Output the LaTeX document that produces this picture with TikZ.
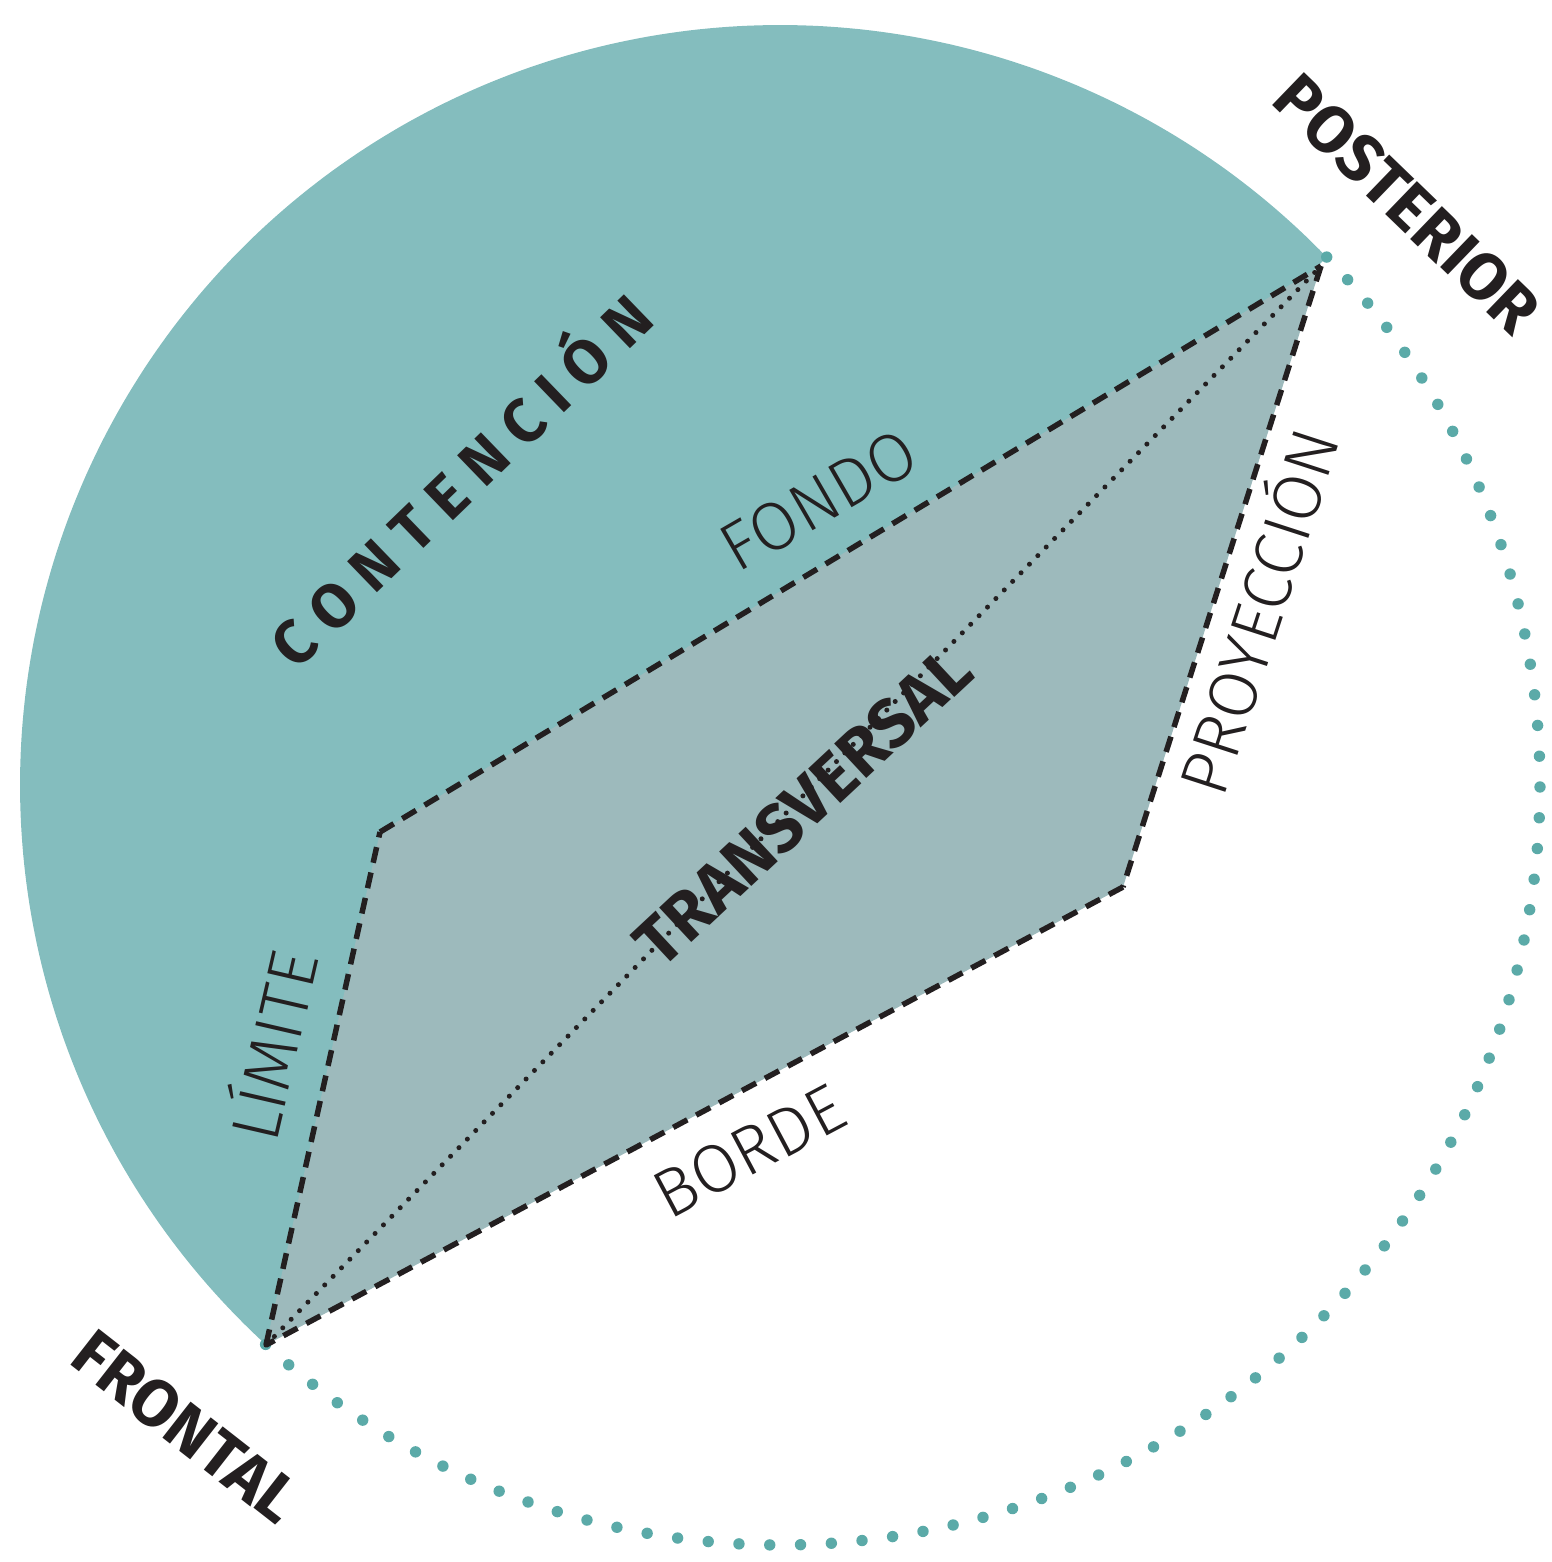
\documentclass[tikz,border=0pt]{standalone}
\usepackage{fontspec}
\setmainfont{Fira Sans}
\newfontfamily\lightf{Fira Sans Light}
\definecolor{tealfill}{HTML}{84BDBE}
\definecolor{grayfill}{HTML}{9DBABC}
\definecolor{dotc}{HTML}{5BAAA8}
\definecolor{ink}{HTML}{231F20}
\newcommand{\ls}{\kern0.245em}
\tikzset{
  edgeline/.style={draw=ink, line width=5.5pt, dash pattern=on 16pt off 10pt},
  diagline/.style={draw=ink, line width=5pt, line cap=round, dash pattern=on 0pt off 12pt},
  contlab/.style={text=ink, font=\bfseries\fontsize{62}{62}\selectfont, inner sep=0pt, text height=43pt, text depth=0pt},
  translab/.style={text=ink, font=\bfseries\fontsize{68}{68}\selectfont, inner sep=0pt, text height=47pt, text depth=0pt},
  lightlab/.style={text=ink, font=\lightf\fontsize{68}{68}\selectfont, inner sep=0pt, text height=47pt, text depth=0pt},
  cornerlab/.style={text=ink, font=\bfseries\fontsize{66}{66}\selectfont, inner sep=0pt, text height=45pt, text depth=0pt}
}
\begin{document}
\begin{tikzpicture}[x=1pt,y=-1pt]
\useasboundingbox (0,0) rectangle (1551,1562);
% teal half disc
\fill[tealfill] plot[domain=44:227.4, samples=240] ({780+760*cos(\x)},{785-760*sin(\x)}) -- cycle;
% corner points
\coordinate (F) at (266,1345);
\coordinate (L) at (380,832);
\coordinate (P) at (1321,266);
\coordinate (Q) at (1123,887);
% parallelogram fill
\fill[grayfill] (F) -- (L) -- (P) -- (Q) -- cycle;
% teal dotted arc
\foreach \i in {0,...,76}{
  \pgfmathsetmacro{\a}{227.4+\i*176.6/76}
  \fill[dotc] ({780+760*cos(\a)},{785-760*sin(\a)}) circle (5.7);
}
% dashed edges
\draw[edgeline] (F) -- (L);
\draw[edgeline] (L) -- (P);
\draw[edgeline] (P) -- (Q);
\draw[edgeline] (Q) -- (F);
% labels
\node[contlab, rotate=44] (contencion) at (462,482) {C\ls O\ls N\ls T\ls E\ls N\ls C\ls I\ls Ó\ls N};
\node[translab, rotate=43] (transversal) at (803,806) {TRANSVERSAL};
\node[lightlab, rotate=30] (fondo) at (819,500) {FONDO};
\node[lightlab, rotate=77] (limite) at (275,1046) {LÍMITE};
\node[lightlab, rotate=28] (borde) at (749,1151) {BORDE};
\node[lightlab, rotate=72] (proyeccion) at (1260,612) {PROYECCIÓN};
\node[cornerlab, rotate=-44] (posterior) at (1407,204) {POSTERIOR};
\node[cornerlab, rotate=-38] (frontal) at (186,1427) {FRONTAL};
% dotted diagonal over the text
\draw[diagline] (F) -- (P);
\end{tikzpicture}
\end{document}
